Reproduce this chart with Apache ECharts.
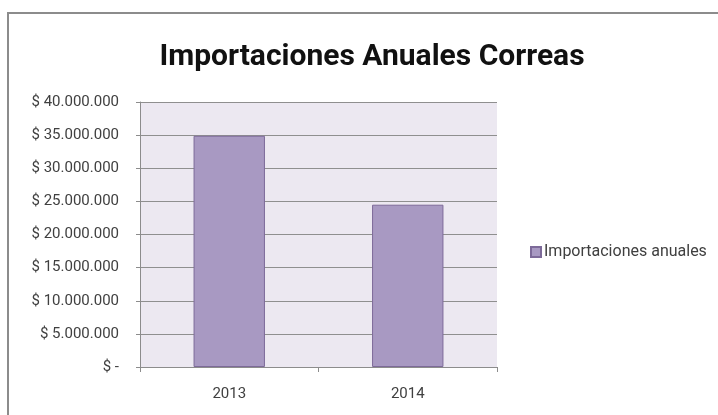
<!DOCTYPE html>
<html>
<head>
<meta charset="utf-8">
<script src="https://cdn.jsdelivr.net/npm/echarts@6/dist/echarts.min.js"></script>
<style>
  html, body { margin: 0; padding: 0; background: #ffffff; }
  #chart { width: 718px; height: 415px; }
  .frame {
    position: absolute;
    left: 7px;
    top: 12px;
    width: 720px;
    height: 420px;
    border-left: 2px solid #8c8c8c;
    border-top: 2px solid #8c8c8c;
    pointer-events: none;
  }
</style>
</head>
<body>
<div id="chart"></div>
<div class="frame"></div>
<script>
const years = ['2013', '2014']
const importaciones = [34900000, 24500000]
const yTicks = [0, 5000000, 10000000, 15000000, 20000000, 25000000, 30000000, 35000000, 40000000]

const fmt = (v) => {
  if (v === 0) return '$ -'
  return '$ ' + String(v).replace(/\B(?=(\d{3})+(?!\d))/g, '.')
}

const chart = echarts.init(document.getElementById('chart'))

const option = {
  animation: false,
  title: {
    text: 'Importaciones Anuales Correas',
    left: 367,
    textAlign: 'center',
    top: 37,
    textStyle: {
      fontFamily: 'Roboto',
      fontWeight: 'bold',
      fontSize: 30,
      color: '#111111'
    }
  },
  legend: {
    data: ['Importaciones anuales'],
    left: 525,
    top: 239,
    itemWidth: 10,
    itemHeight: 10,
    icon: 'rect',
    textStyle: {
      fontFamily: 'Roboto',
      fontSize: 16,
      color: '#404040',
      padding: [0, 0, 0, -2]
    }
  },
  grid: {
    left: 140,
    top: 102,
    width: 357,
    height: 265,
    show: true,
    backgroundColor: '#ece8f1',
    borderWidth: 0
  },
  xAxis: {
    type: 'category',
    data: years,
    axisLine: { lineStyle: { color: '#8c8c8c', width: 1 } },
    axisTick: { show: true, alignWithLabel: false, length: 5, lineStyle: { color: '#8c8c8c' } },
    axisLabel: {
      margin: 20,
      fontFamily: 'Roboto',
      fontSize: 15,
      color: '#404040'
    }
  },
  yAxis: {
    type: 'value',
    min: yTicks[0],
    max: yTicks[yTicks.length - 1],
    interval: yTicks[1] - yTicks[0],
    axisLine: { show: true, lineStyle: { color: '#8c8c8c', width: 1 } },
    axisTick: { show: true, length: 4, lineStyle: { color: '#8c8c8c' } },
    splitLine: { lineStyle: { color: '#8f8f8f', width: 1 } },
    axisLabel: {
      margin: 21,
      formatter: fmt,
      fontFamily: 'Roboto',
      fontSize: 15,
      color: '#404040'
    }
  },
  series: [
    {
      name: 'Importaciones anuales',
      type: 'bar',
      data: importaciones,
      barWidth: '40%',
      itemStyle: {
        color: '#a899c2',
        borderColor: '#7d6a99',
        borderWidth: 1
      }
    }
  ]
}

chart.setOption(option)
</script>
</body>
</html>
